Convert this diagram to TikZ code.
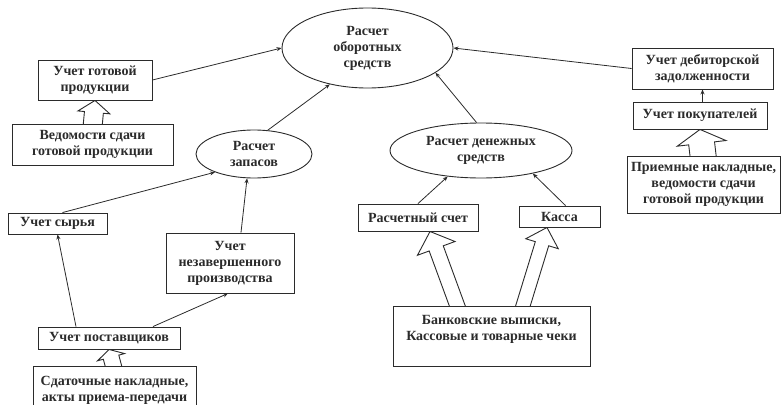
\documentclass[tikz,border=0pt]{standalone}
\usepackage{fontspec}
\setmainfont{Liberation Serif}
\usetikzlibrary{calc,arrows.meta,shapes.geometric}
\pgfdeclarelayer{background}
\pgfsetlayers{background,main}
\definecolor{ink}{HTML}{2B2B2B}
% #1 start, #2 tip, #3 shaft half width, #4 head half width, #5 head length
\newcommand\hollowarrow[5]{%
  \begin{pgfonlayer}{background}
  \draw[ink, line width=0.9pt, fill=white, line join=miter]
    let \p1=#1, \p2=#2,
        \n1={atan2(\y2-\y1,\x2-\x1)},
        \n2={veclen(\x2-\x1,\y2-\y1)},
        \n3={veclen(\x2-\x1,\y2-\y1)-#5} in
    [shift={(\p1)}, rotate=\n1]
    (0,-#3) -- (\n3,-#3) -- (\n3,-#4) -- (\n2,0) -- (\n3,#4) -- (\n3,#3) -- (0,#3);
  \end{pgfonlayer}}
\begin{document}
\begin{tikzpicture}[x=1pt,y=-1pt,
  font=\fontsize{14}{16}\selectfont\bfseries,
  every node/.style={text=ink},
  box/.style={draw=ink, line width=0.9pt, fill=white, align=center, inner sep=0pt},
  oval/.style={ellipse, draw=ink, line width=0.9pt, fill=white, align=center, inner sep=0pt},
  link/.style={draw=ink, line width=0.8pt, -{Stealth[length=5pt,width=4pt]}},
  ]
\useasboundingbox (0,0) rectangle (783,404);
\clip (0,0) rectangle (783,404);

% ellipses
\node[oval, minimum width=171, minimum height=80] (main) at (367.5,48) {Расчет\\оборотных\\средств};
\node[oval, minimum width=116, minimum height=48] (zap) at (254,154) {Расчет\\запасов};
\node[oval, minimum width=182, minimum height=55] (den) at (481,150.5) {Расчет денежных\\средств};

% boxes
\node[box, minimum width=114, minimum height=40] (gp) at (95,80) {Учет готовой\\продукции};
\node[box, minimum width=161, minimum height=41] (ved) at (92.5,144.5) {Ведомости сдачи\\готовой продукции};
\node[box, minimum width=141, minimum height=41] (deb) at (702.5,68.5) {Учет дебиторской\\задолженности};
\node[box, minimum width=134, minimum height=27] (pok) at (700,115.5) {Учет покупателей};
\node[box, minimum width=153, minimum height=57] (prm) at (703.5,184.5) {Приемные накладные,\\ведомости сдачи\\готовой продукции};
\node[box, minimum width=120, minimum height=27] (rs) at (418,217.5) {Расчетный счет};
\node[box, minimum width=81, minimum height=21] (kassa) at (559.5,216.5) {Касса};
\node[box, minimum width=197, minimum height=60] (bank) at (491.5,336) {Банковские выписки,\\Кассовые и товарные чеки\\\mbox{}};
\node[box, minimum width=99, minimum height=21] (syr) at (57.5,223.5) {Учет сырья};
\node[box, minimum width=128, minimum height=60] (nez) at (230,263) {Учет\\незавершенного\\производства};
\node[box, minimum width=142, minimum height=22] (post) at (109,338) {Учет поставщиков};
\node[box, minimum width=163, minimum height=48, anchor=north] (sdat) at (114.5,366) {Сдаточные накладные,\\акты приема-передачи};

% thin arrows
\draw[link] (gp.east) -- (main.west);
\draw[link] (zap.60) -- (main.224);
\draw[link] (deb.west) -- (main.east);
\draw[link] (deb.south |- pok.north) -- (deb.south);
\draw[link] (den.99) -- (main.340);
\draw[link] (rs.north) -- (den.218);
\draw[link] ($(kassa.north)+(6,0)$) -- (den.336);
\draw[link] ($(syr.north)+(5,0)$) -- (zap.205);
\draw[link] ($(nez.north)+(11,0)$) -- (zap.254);
\draw[link] ($(post.north)+(-33,0)$) -- (syr.south);
\draw[link] ($(post.north)+(44,0)$) -- ($(nez.south)+(-2,0)$);

% hollow arrows
\hollowarrow{($(ved.north)+(0,4)$)}{(gp.south)}{9.5}{16}{12}
\hollowarrow{($(prm.north)+(0,4)$)}{(pok.south)}{13}{24.5}{14}
\hollowarrow{($(sdat.north)+(0,4)$)}{(post.south)}{8}{14}{8}
\hollowarrow{($(bank.north)+(-32.5,5)$)}{($(rs.south)+(12,0)$)}{7.5}{20}{18}
\hollowarrow{($(bank.north)+(30,5)$)}{($(kassa.south)+(-12.5,0)$)}{7}{17}{17}
\end{tikzpicture}
\end{document}
